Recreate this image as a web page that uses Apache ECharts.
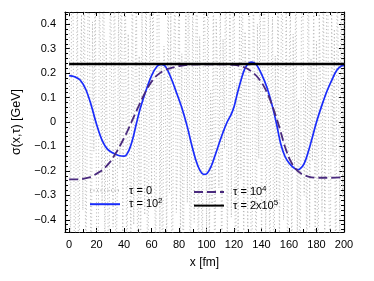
<!DOCTYPE html>
<html>
<head>
<meta charset="utf-8">
<script src="https://cdn.jsdelivr.net/npm/echarts@6/dist/echarts.min.js"></script>
<style>html,body{margin:0;padding:0;background:#fff}#c{width:374px;height:281px}</style>
</head>
<body>
<div id="c"></div>
<script>
// ---- data ----
const xMajor = [0,20,40,60,80,100,120,140,160,180,200];
const xMinor = [10,30,50,70,90,110,130,150,170,190];
const yMajor = [-0.4,-0.3,-0.2,-0.1,0,0.1,0.2,0.3,0.4];
const yMinor = [-0.44,-0.42,-0.38,-0.36,-0.34,-0.32,-0.28,-0.26,-0.24,-0.22,-0.18,-0.16,-0.14,-0.12,-0.08,-0.06,-0.04,-0.02,
                0.02,0.04,0.06,0.08,0.12,0.14,0.16,0.18,0.22,0.24,0.26,0.28,0.32,0.34,0.36,0.38,0.42,0.44];
const seriesNames = ['τ = 0','τ = 10^2','τ = 10^4','τ = 2x10^5'];

// tau = 0 : noisy initial field (values at x = 0,1,2,...,200 fm)
const tau0 = [
 0.52,-0.71,0.95,0.38,-0.84,-0.22,0.67,-1.05,0.15,0.44,-0.36,0.88,-0.62,-0.18,0.73,0.29,-0.94,0.41,-0.12,0.65,
 -0.48,-0.83,0.57,0.21,-0.34,1.02,-0.59,0.33,-0.26,-0.77,0.69,0.12,-0.43,0.91,-0.66,-0.31,0.47,-0.19,0.82,-0.55,
 0.24,0.61,-0.89,0.36,-0.14,-0.52,0.78,-0.42,0.17,0.58,-0.97,0.27,-0.64,0.46,0.09,-0.38,0.85,-0.73,-0.21,0.53,
 -0.32,0.74,-0.16,-0.6,0.39,0.98,-0.47,0.23,-0.81,0.31,0.11,-0.56,0.7,-0.29,0.45,-0.92,0.19,0.62,-0.37,-0.13,
 0.86,-0.51,0.28,-0.74,0.14,0.49,-0.33,0.93,-0.68,-0.24,0.56,-0.41,0.2,0.77,-0.86,0.35,-0.17,-0.63,0.72,0.26,
 -0.45,0.81,-0.58,0.13,-0.35,0.64,-0.99,0.42,0.18,-0.27,0.59,-0.76,0.34,-0.11,0.87,-0.49,-0.2,0.66,-0.39,0.25,
 0.71,-0.84,0.16,-0.53,0.48,-0.23,0.94,-0.61,0.37,0.1,-0.44,0.79,-0.3,-0.69,0.55,0.22,-0.82,0.4,-0.15,0.63,
 -0.57,0.3,0.89,-0.46,-0.12,0.52,-0.72,0.18,0.43,-0.91,0.27,-0.35,0.68,-0.54,0.14,0.83,-0.4,-0.25,0.6,-0.79,
 0.21,0.47,-0.65,0.36,-0.19,0.76,-0.5,0.09,-0.88,0.41,0.58,-0.3,0.17,-0.7,0.92,-0.43,0.26,-0.16,0.54,-0.62,
 0.33,-0.95,0.45,0.12,-0.37,0.69,-0.53,0.24,0.8,-0.28,-0.66,0.5,-0.14,0.38,-0.85,0.61,0.2,-0.47,0.74,-0.31,
 0.44
];

// tau = 10^2
const tau2 = [
 [0,0.19],[4,0.185],[8,0.172],[12,0.135],[16,0.07],[20,-0.01],[24,-0.075],[28,-0.112],[32,-0.127],[36,-0.137],
 [40,-0.14],[43,-0.122],[46,-0.075],[49,-0.005],[52,0.06],[56,0.13],[60,0.19],[64,0.228],[67,0.236],[70,0.228],
 [74,0.182],[78,0.122],[82,0.058],[86,-0.02],[89,-0.09],[92,-0.152],[95,-0.196],[98,-0.214],[100,-0.212],[103,-0.186],
 [106,-0.14],[109,-0.09],[112,-0.042],[115,0.0],[118,0.032],[120,0.062],[122,0.108],[125,0.17],[128,0.22],[131,0.242],
 [133,0.245],[136,0.236],[140,0.196],[144,0.14],[148,0.062],[151,-0.01],[154,-0.09],[157,-0.14],[160,-0.168],[163,-0.185],
 [166,-0.195],[168,-0.192],[171,-0.17],[174,-0.122],[177,-0.062],[180,0.0],[184,0.07],[188,0.132],[192,0.182],[195,0.214],
 [198,0.229],[200,0.232]
];

// tau = 10^4
const tau4 = [
 [0,-0.235],[8,-0.234],[14,-0.228],[18,-0.218],[22,-0.205],[26,-0.187],[30,-0.162],[34,-0.127],[38,-0.087],[42,-0.042],
 [46,0.008],[50,0.058],[54,0.106],[58,0.148],[62,0.18],[66,0.2],[70,0.213],[75,0.222],[80,0.229],[86,0.234],
 [95,0.236],[110,0.236],[120,0.234],[125,0.228],[129,0.22],[133,0.205],[137,0.184],[141,0.153],[145,0.108],[149,0.048],
 [153,-0.022],[157,-0.1],[161,-0.158],[165,-0.193],[169,-0.212],[174,-0.223],[180,-0.228],[190,-0.228],[200,-0.226]
];

// tau = 2x10^5
const tau5 = [[0,0.237],[200,0.237]];

// ---- chart ----
const FONT = 'Liberation Sans';
const chart = echarts.init(document.getElementById('c'), null, {renderer:'canvas'});
const fmtY = v => {
  const r = Math.round(v*10)/10;
  if (Math.abs(r) < 1e-9) return '0';
  return (r < 0 ? '\u2212' : '') + Math.abs(r).toFixed(1);
};
const xBase = {type:'value', min:-3, max:200, splitLine:{show:false}};
const yBase = {type:'value', min:-0.45, max:0.45, splitLine:{show:false}};
const lineBlack = {show:true, onZero:false, lineStyle:{color:'#000', width:1.2}};
const noLine = {show:false, onZero:false};
const legendFmt = n => { const m = n.split('^'); return '{a|' + m[0] + '}' + (m[1] ? '{s|' + m[1] + '}' : ''); };
const legendText = {color:'#000', fontSize:11, fontFamily:FONT, padding:[0,0,0,4],
  rich:{a:{fontSize:11, fontFamily:FONT, color:'#000', lineHeight:14},
        s:{fontSize:8, fontFamily:FONT, color:'#000', verticalAlign:'top', lineHeight:8}}};

chart.setOption({
  animation:false,
  backgroundColor:'#fff',
  grid:{left:65, right:30, top:12, bottom:49, containLabel:false},
  xAxis:[
    Object.assign({}, xBase, {position:'bottom', axisLine:lineBlack,
      axisTick:{show:true, inside:true, length:4, customValues:xMajor, lineStyle:{color:'#000'}},
      axisLabel:{customValues:xMajor, margin:7, color:'#000', fontSize:11, fontFamily:FONT},
      name:'x [fm]', nameLocation:'middle', nameGap:25,
      nameTextStyle:{color:'#000', fontSize:12, fontFamily:FONT}}),
    Object.assign({}, xBase, {position:'bottom', axisLine:noLine,
      axisTick:{show:true, inside:true, length:3, customValues:xMinor, lineStyle:{color:'#000'}},
      axisLabel:{show:false}}),
    Object.assign({}, xBase, {position:'top', axisLine:lineBlack,
      axisTick:{show:true, inside:true, length:4, customValues:xMajor, lineStyle:{color:'#000'}},
      axisLabel:{show:false}}),
    Object.assign({}, xBase, {position:'top', axisLine:noLine,
      axisTick:{show:true, inside:true, length:3, customValues:xMinor, lineStyle:{color:'#000'}},
      axisLabel:{show:false}})
  ],
  yAxis:[
    Object.assign({}, yBase, {position:'left', axisLine:lineBlack,
      axisTick:{show:true, inside:true, length:5, customValues:yMajor, lineStyle:{color:'#000'}},
      axisLabel:{customValues:yMajor, formatter:fmtY, margin:9, color:'#000', fontSize:11, fontFamily:FONT},
      name:'σ(x,τ) [GeV]', nameLocation:'middle', nameGap:41,
      nameTextStyle:{color:'#000', fontSize:12.5, fontFamily:FONT}}),
    Object.assign({}, yBase, {position:'left', axisLine:noLine,
      axisTick:{show:true, inside:true, length:3, customValues:yMinor, lineStyle:{color:'#000'}},
      axisLabel:{show:false}}),
    Object.assign({}, yBase, {position:'right', axisLine:lineBlack,
      axisTick:{show:true, inside:true, length:5, customValues:yMajor, lineStyle:{color:'#000'}},
      axisLabel:{show:false}}),
    Object.assign({}, yBase, {position:'right', axisLine:noLine,
      axisTick:{show:true, inside:true, length:3, customValues:yMinor, lineStyle:{color:'#000'}},
      axisLabel:{show:false}})
  ],
  legend:[
    {data:[seriesNames[0], seriesNames[1]], orient:'vertical', left:89, top:185,
     itemWidth:30, itemHeight:14, itemGap:1, padding:0,
     itemStyle:{opacity:0}, formatter:legendFmt, textStyle:legendText},
    {data:[seriesNames[2], seriesNames[3]], orient:'vertical', left:193, top:185,
     itemWidth:30, itemHeight:14, itemGap:1, padding:0,
     itemStyle:{opacity:0}, formatter:legendFmt, textStyle:legendText}
  ],
  series:[
    {name:seriesNames[0], type:'line', z:1, symbol:'none', clip:true,
     data: tau0.map((v,i)=>[i,v]),
     lineStyle:{color:'#b6b6b6', width:1, type:[1,2.5]}, itemStyle:{color:'#b6b6b6'}},
    {name:seriesNames[1], type:'line', z:3, symbol:'none', smooth:0.35, clip:true,
     data: tau2, lineStyle:{color:'#1a2cfa', width:1.7}, itemStyle:{color:'#1a2cfa'}},
    {name:seriesNames[2], type:'line', z:3, symbol:'none', smooth:0.35, clip:true,
     data: tau4, lineStyle:{color:'#4a2a7e', width:1.8, type:[9,4]}, itemStyle:{color:'#4a2a7e'}},
    {name:seriesNames[3], type:'line', z:4, symbol:'none', clip:true,
     data: tau5, lineStyle:{color:'#000', width:2.6}, itemStyle:{color:'#000'}}
  ]
});
</script>
</body>
</html>
